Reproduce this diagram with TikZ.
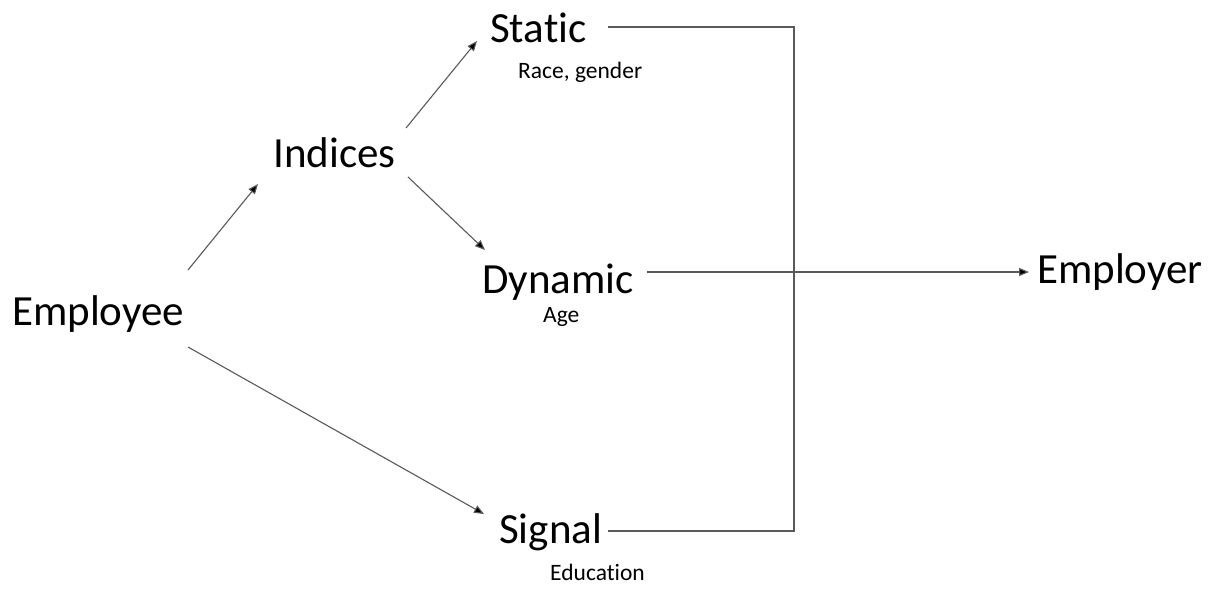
\documentclass[tikz,border=0pt]{standalone}
\usepackage{fontspec}
\setmainfont{Carlito}[RawFeature=-liga]
\usetikzlibrary{arrows.meta}
\tikzset{
  big/.style={anchor=base west,inner sep=0pt,font=\fontsize{43}{50}\selectfont},
  small/.style={anchor=base west,inner sep=0pt,font=\fontsize{23.5}{28}\selectfont},
  conn/.style={draw=black!65,line width=1.1pt},
  arr/.style={conn,-{Triangle[length=10pt,width=8pt,fill=black]}},
}
\begin{document}
\begin{tikzpicture}[x=1pt,y=-1pt]
\useasboundingbox (0,0) rectangle (1212,590);
\node[big] (emp) at (12,325) {Employee};
\node[big] (ind) at (273,167) {Indices};
\node[big] (sta) at (490,42) {Static};
\node[small] (race) at (518,78) {Race, gender};
\node[big] (dyn) at (482,293) {Dynamic};
\node[small] (age) at (543,322) {Age};
\node[big] (sig) at (499,543) {Signal};
\node[small] (edu) at (550,580) {Education};
\node[big] (empr) at (1037,283) {Employer};
% connector end points
\coordinate (e1) at (188,270);
\coordinate (i1) at (258,184);
\coordinate (i2) at (406,128);
\coordinate (s1) at (477,41);
\coordinate (i3) at (408,177);
\coordinate (d1) at (485,250);
\coordinate (e2) at (188,347);
\coordinate (g1) at (484,514);
\coordinate (so) at (608,27);
\coordinate (corner1) at (794,27);
\coordinate (go) at (608,531);
\coordinate (corner2) at (794,531);
\coordinate (do) at (647,272);
\coordinate (ei) at (1029,272);
\draw[arr] (e1) -- (i1);
\draw[arr] (i2) -- (s1);
\draw[arr] (i3) -- (d1);
\draw[arr] (e2) -- (g1);
\draw[conn] (so) -- (corner1) -- (corner2) -- (go);
\draw[arr] (do) -- (ei);
\end{tikzpicture}
\end{document}
